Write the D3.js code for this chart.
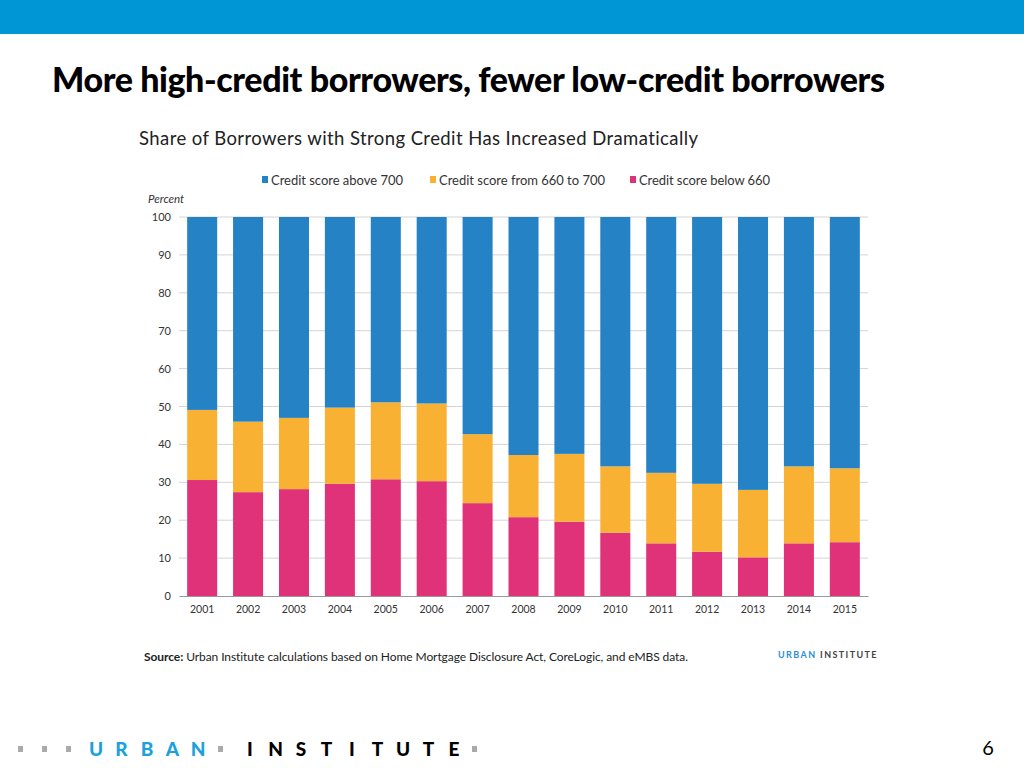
<!DOCTYPE html>
<html><head><meta charset="utf-8">
<script src="https://cdn.jsdelivr.net/npm/d3@7"></script>
<style>
body{margin:0;background:#fff;}
svg{display:block;}
text{font-variant-ligatures:none;}
</style></head>
<body>
<svg id="c" width="1024" height="768"></svg>
<script>
const years = ["2001","2002","2003","2004","2005","2006","2007","2008","2009","2010","2011","2012","2013","2014","2015"];
const below660 = [30.6,27.4,28.2,29.6,30.8,30.3,24.5,20.8,19.6,16.7,13.9,11.7,10.2,13.9,14.2];
const from660to700 = [18.5,18.6,18.8,20.1,20.3,20.5,18.2,16.4,17.9,17.5,18.6,17.9,17.8,20.3,19.5];
const above700 = [50.9,54.0,53.0,50.3,48.9,49.2,57.3,62.8,62.5,65.8,67.5,70.4,72.0,65.8,66.3];
const seriesNames = ["Credit score above 700","Credit score from 660 to 700","Credit score below 660"];
const yTicks = [0,10,20,30,40,50,60,70,80,90,100];
const colors = {"Credit score above 700":"#2482c5","Credit score from 660 to 700":"#f8b133","Credit score below 660":"#e03278"};

const svg = d3.select("#c");
// top banner
svg.append("rect").attr("x",0).attr("y",0).attr("width",1024).attr("height",34).attr("fill","#0096d6");
svg.append("text").attr("x",52).attr("y",92).attr("font-family","Lato").attr("font-weight",900)
  .attr("font-size",34).attr("textLength",833).attr("lengthAdjust","spacing").attr("fill","#000")
  .text("More high-credit borrowers, fewer low-credit borrowers");

svg.append("text").attr("x",139).attr("y",145).attr("font-family","Lato").attr("font-size",18.5)
  .attr("textLength",559).attr("lengthAdjust","spacing").attr("fill","#222")
  .text("Share of Borrowers with Strong Credit Has Increased Dramatically");

const data = years.map((y,i)=>({year:y,
  "Credit score below 660":below660[i],
  "Credit score from 660 to 700":from660to700[i],
  "Credit score above 700":above700[i]}));

const x = d3.scaleBand().domain(years).range([179,868]).paddingInner(0.346).paddingOuter(0.178);
const y = d3.scaleLinear().domain([0,100]).range([596,217]);

// grid
const g = svg.append("g");
g.selectAll("line.grid").data(yTicks.filter(t=>t>0)).join("line")
  .attr("x1",179).attr("x2",868).attr("y1",d=>y(d)).attr("y2",d=>y(d))
  .attr("stroke","#d4d4d4").attr("stroke-width",1);

const stack = d3.stack().keys(["Credit score below 660","Credit score from 660 to 700","Credit score above 700"]);
const stacked = stack(data);
g.selectAll("g.s").data(stacked).join("g").attr("fill",d=>colors[d.key])
  .selectAll("rect").data(d=>d).join("rect")
  .attr("x",d=>x(d.data.year)).attr("width",x.bandwidth())
  .attr("y",d=>y(d[1])).attr("height",d=>y(d[0])-y(d[1]));

// y axis
const yAxis = d3.axisLeft(y).tickValues(yTicks).tickSize(0).tickPadding(8);
const ya = svg.append("g").attr("transform","translate(179,0)").call(yAxis);
ya.select(".domain").remove();
ya.selectAll("text").attr("font-family","Lato").attr("font-size",11).attr("fill","#333");

// x axis
const xAxis = d3.axisBottom(x).tickSize(0).tickPadding(10);
const xa = svg.append("g").attr("transform","translate(0,596)").call(xAxis);
xa.select(".domain").attr("stroke","#999");
xa.selectAll("text").attr("font-family","Lato").attr("font-size",10.5).attr("fill","#333");

svg.append("text").attr("x",148).attr("y",203).attr("font-family","Lato").attr("font-style","italic")
  .attr("font-size",11.5).attr("fill","#333").text("Percent");

// legend
const legX = [262,430,630];
const legW = [132,166,131];
const leg = svg.append("g").selectAll("g").data(seriesNames).join("g")
  .attr("transform",(d,i)=>`translate(${legX[i]},180)`);
leg.append("rect").attr("x",0).attr("y",-4).attr("width",6).attr("height",7).attr("fill",d=>colors[d]);
leg.append("text").attr("x",9).attr("y",4.5).attr("font-family","Lato").attr("font-size",13)
  .attr("textLength",(d,i)=>legW[i]).attr("lengthAdjust","spacing").attr("fill","#333").text(d=>d);

// source
const src = svg.append("text").attr("x",144).attr("y",661).attr("font-family","Lato").attr("font-size",12)
  .attr("textLength",544).attr("lengthAdjust","spacing").attr("fill","#222");
src.append("tspan").attr("font-weight",700).text("Source:");
src.append("tspan").text(" Urban Institute calculations based on Home Mortgage Disclosure Act, CoreLogic, and eMBS data.");

const ui = svg.append("text").attr("x",778).attr("y",658).attr("font-family","Lato").attr("font-weight",700)
  .attr("font-size",9).attr("letter-spacing",1.4);
ui.append("tspan").attr("fill","#2e8fcf").text("URBAN ");
ui.append("tspan").attr("fill","#444").text("INSTITUTE");

// footer
const dotXs = [20,44,68,220,474];
svg.append("g").selectAll("rect").data(dotXs).join("rect")
  .attr("x",d=>d-2).attr("y",746).attr("width",5).attr("height",6).attr("fill","#aaa");
const urb = "URBAN".split("");
svg.append("g").selectAll("text").data(urb).join("text")
  .attr("x",(d,i)=>96+i*25.5).attr("y",756).attr("text-anchor","middle")
  .attr("font-family","Lato").attr("font-weight",900).attr("font-size",19).attr("fill","#1ba1dc").text(d=>d);
const inst = "INSTITUTE".split("");
svg.append("g").selectAll("text").data(inst).join("text")
  .attr("x",(d,i)=>250+i*25.5).attr("y",756).attr("text-anchor","middle")
  .attr("font-family","Lato").attr("font-weight",900).attr("font-size",19).attr("fill","#000").text(d=>d);
svg.append("text").attr("x",988).attr("y",755).attr("text-anchor","middle").attr("font-family","Lato")
  .attr("font-size",20).attr("fill","#000").text("6");
</script>
</body></html>
